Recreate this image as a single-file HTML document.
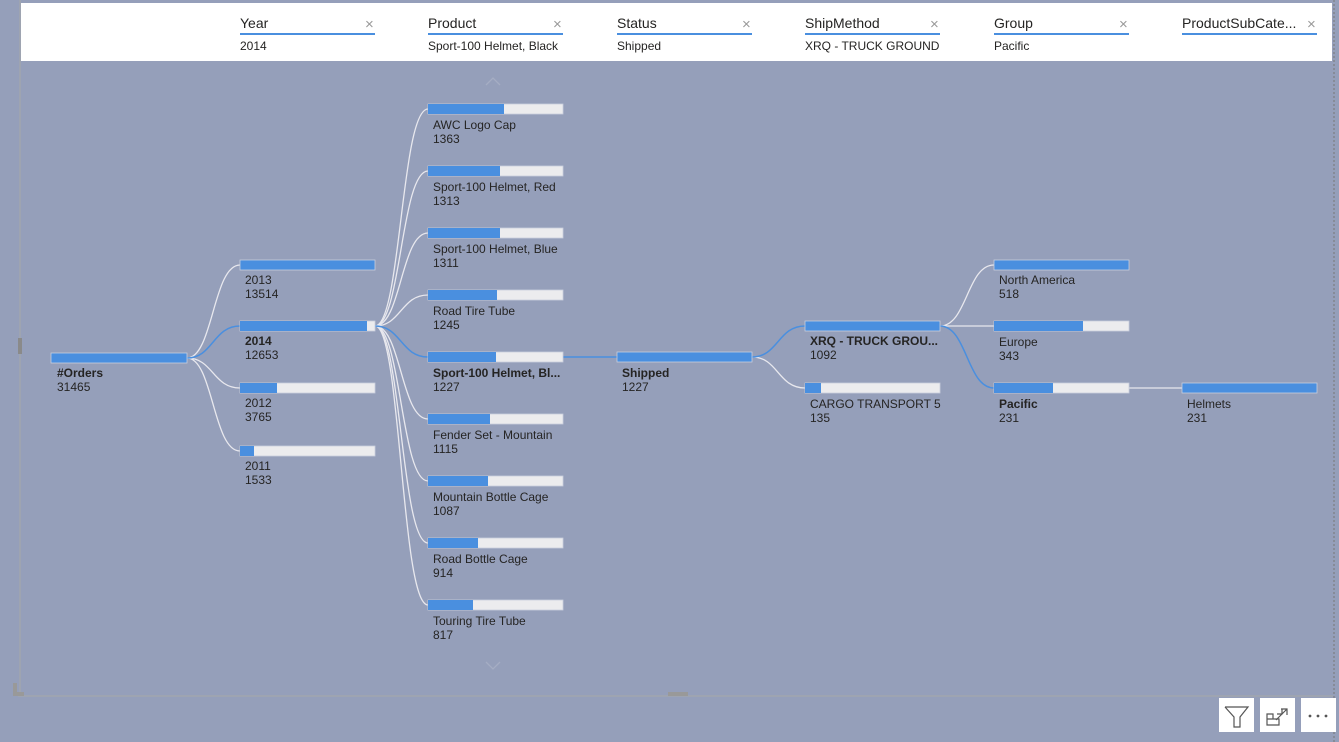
<!DOCTYPE html>
<html><head><meta charset="utf-8"><style>
html,body{margin:0;padding:0;width:1339px;height:742px;overflow:hidden;background:#959fba;font-family:"Liberation Sans",sans-serif}
svg{position:absolute;left:0;top:0}
</style></head><body>
<svg width="1339" height="742" viewBox="0 0 1339 742" font-family="Liberation Sans, sans-serif">
<rect x="0" y="0" width="1339" height="742" fill="#959fba"/>
<!-- frame -->
<line x1="20" y1="0" x2="20" y2="696" stroke="#a8a8a8" stroke-width="1"/>
<line x1="18" y1="696" x2="1333" y2="696" stroke="#a8a8a8" stroke-width="1"/>
<line x1="1334" y1="0" x2="1334" y2="742" stroke="#777" stroke-width="1" stroke-dasharray="2,2"/>
<rect x="18" y="338" width="4" height="16" fill="#8a8a8a"/>
<rect x="13" y="683" width="4" height="13" fill="#999"/>
<rect x="13" y="692" width="11" height="4" fill="#999"/>
<rect x="668" y="692" width="20" height="4" fill="#999"/>
<!-- header -->
<rect x="21" y="3" width="1311" height="58" fill="#ffffff"/>
<g font-size="14" fill="#252423">
<text x="240" y="28">Year</text><text x="428" y="28">Product</text><text x="617" y="28">Status</text>
<text x="805" y="28">ShipMethod</text><text x="994" y="28">Group</text><text x="1182" y="28">ProductSubCate...</text>
</g>
<g font-size="15" fill="#999">
<text x="365" y="29">×</text><text x="553" y="29">×</text><text x="742" y="29">×</text><text x="930" y="29">×</text><text x="1119" y="29">×</text><text x="1307" y="29">×</text>
</g>
<g fill="#4a8fdf">
<rect x="240" y="33" width="135" height="2"/><rect x="428" y="33" width="135" height="2"/><rect x="617" y="33" width="135" height="2"/>
<rect x="805" y="33" width="135" height="2"/><rect x="994" y="33" width="135" height="2"/><rect x="1182" y="33" width="135" height="2"/>
</g>
<g font-size="12" fill="#252423">
<text x="240" y="50">2014</text><text x="428" y="50">Sport-100 Helmet, Black</text><text x="617" y="50">Shipped</text>
<text x="805" y="50">XRQ - TRUCK GROUND</text><text x="994" y="50">Pacific</text>
</g>
<!-- chevrons -->
<polyline points="486,85 493,78 500,85" fill="none" stroke="#a5adc3" stroke-width="1.3"/>
<polyline points="486,662 493,669 500,662" fill="none" stroke="#a5adc3" stroke-width="1.3"/>
<!-- connectors -->
<g fill="none" stroke="#e8e8ee" stroke-width="1.3">
<path d="M187,358 C213,358 213,265 240,265"/>
<path d="M187,358 C213,358 213,388 240,388"/>
<path d="M187,358 C213,358 213,451 240,451"/>
<path d="M375,326 C401,326 401,109 428,109"/>
<path d="M375,326 C401,326 401,171 428,171"/>
<path d="M375,326 C401,326 401,233 428,233"/>
<path d="M375,326 C401,326 401,295 428,295"/>
<path d="M375,326 C401,326 401,419 428,419"/>
<path d="M375,326 C401,326 401,481 428,481"/>
<path d="M375,326 C401,326 401,543 428,543"/>
<path d="M375,326 C401,326 401,605 428,605"/>
<path d="M752,357 C778,357 778,388 805,388"/>
<path d="M940,326 C967,326 967,265 994,265"/>
<path d="M940,326 L994,326"/>
<path d="M1129,388 L1182,388"/>
</g>
<g fill="none" stroke="#4a8fdf" stroke-width="1.5">
<path d="M187,358 C213,358 213,326 240,326"/>
<path d="M375,326 C401,326 401,357 428,357"/>
<path d="M563,357 L617,357"/>
<path d="M752,357 C778,357 778,326 805,326"/>
<path d="M940,326 C967,326 967,388 994,388"/>
</g>
<!-- bars -->
<g stroke="#c8cedc" stroke-width="0.8">
<rect x="51" y="353" width="136" height="10" fill="#4a8fdf"/>
<rect x="240" y="260" width="135" height="10" fill="#4a8fdf"/>
<rect x="240" y="321" width="135" height="10" fill="#ececee"/><rect x="240" y="321" width="127" height="10" fill="#4a8fdf" stroke="none"/>
<rect x="240" y="383" width="135" height="10" fill="#ececee"/><rect x="240" y="383" width="37" height="10" fill="#4a8fdf" stroke="none"/>
<rect x="240" y="446" width="135" height="10" fill="#ececee"/><rect x="240" y="446" width="14" height="10" fill="#4a8fdf" stroke="none"/>
<rect x="428" y="104" width="135" height="10" fill="#ececee"/><rect x="428" y="104" width="76" height="10" fill="#4a8fdf" stroke="none"/>
<rect x="428" y="166" width="135" height="10" fill="#ececee"/><rect x="428" y="166" width="72" height="10" fill="#4a8fdf" stroke="none"/>
<rect x="428" y="228" width="135" height="10" fill="#ececee"/><rect x="428" y="228" width="72" height="10" fill="#4a8fdf" stroke="none"/>
<rect x="428" y="290" width="135" height="10" fill="#ececee"/><rect x="428" y="290" width="69" height="10" fill="#4a8fdf" stroke="none"/>
<rect x="428" y="352" width="135" height="10" fill="#ececee"/><rect x="428" y="352" width="68" height="10" fill="#4a8fdf" stroke="none"/>
<rect x="428" y="414" width="135" height="10" fill="#ececee"/><rect x="428" y="414" width="62" height="10" fill="#4a8fdf" stroke="none"/>
<rect x="428" y="476" width="135" height="10" fill="#ececee"/><rect x="428" y="476" width="60" height="10" fill="#4a8fdf" stroke="none"/>
<rect x="428" y="538" width="135" height="10" fill="#ececee"/><rect x="428" y="538" width="50" height="10" fill="#4a8fdf" stroke="none"/>
<rect x="428" y="600" width="135" height="10" fill="#ececee"/><rect x="428" y="600" width="45" height="10" fill="#4a8fdf" stroke="none"/>
<rect x="617" y="352" width="135" height="10" fill="#4a8fdf"/>
<rect x="805" y="321" width="135" height="10" fill="#4a8fdf"/>
<rect x="805" y="383" width="135" height="10" fill="#ececee"/><rect x="805" y="383" width="16" height="10" fill="#4a8fdf" stroke="none"/>
<rect x="994" y="260" width="135" height="10" fill="#4a8fdf"/>
<rect x="994" y="321" width="135" height="10" fill="#ececee"/><rect x="994" y="321" width="89" height="10" fill="#4a8fdf" stroke="none"/>
<rect x="994" y="383" width="135" height="10" fill="#ececee"/><rect x="994" y="383" width="59" height="10" fill="#4a8fdf" stroke="none"/>
<rect x="1182" y="383" width="135" height="10" fill="#4a8fdf"/>
</g>
<!-- labels -->
<g font-size="12" fill="#252423">
<text x="57" y="377" font-weight="bold">#Orders</text><text x="57" y="391">31465</text>
<text x="245" y="284">2013</text><text x="245" y="298">13514</text>
<text x="245" y="345" font-weight="bold">2014</text><text x="245" y="359">12653</text>
<text x="245" y="407">2012</text><text x="245" y="421">3765</text>
<text x="245" y="470">2011</text><text x="245" y="484">1533</text>
<text x="433" y="129">AWC Logo Cap</text><text x="433" y="143">1363</text>
<text x="433" y="191">Sport-100 Helmet, Red</text><text x="433" y="205">1313</text>
<text x="433" y="253">Sport-100 Helmet, Blue</text><text x="433" y="267">1311</text>
<text x="433" y="315">Road Tire Tube</text><text x="433" y="329">1245</text>
<text x="433" y="377" font-weight="bold">Sport-100 Helmet, Bl...</text><text x="433" y="391">1227</text>
<text x="433" y="439">Fender Set - Mountain</text><text x="433" y="453">1115</text>
<text x="433" y="501">Mountain Bottle Cage</text><text x="433" y="515">1087</text>
<text x="433" y="563">Road Bottle Cage</text><text x="433" y="577">914</text>
<text x="433" y="625">Touring Tire Tube</text><text x="433" y="639">817</text>
<text x="622" y="377" font-weight="bold">Shipped</text><text x="622" y="391">1227</text>
<text x="810" y="345" font-weight="bold">XRQ - TRUCK GROU...</text><text x="810" y="359">1092</text>
<text x="810" y="408">CARGO TRANSPORT 5</text><text x="810" y="422">135</text>
<text x="999" y="284">North America</text><text x="999" y="298">518</text>
<text x="999" y="346">Europe</text><text x="999" y="360">343</text>
<text x="999" y="408" font-weight="bold">Pacific</text><text x="999" y="422">231</text>
<text x="1187" y="408">Helmets</text><text x="1187" y="422">231</text>
</g>
<!-- bottom right buttons -->
<rect x="1219" y="698" width="35" height="34" fill="#fff"/>
<polyline points="1225,707 1248,707 1240,717 1240,727 1234,727 1234,717 1225,707" fill="none" stroke="#555" stroke-width="1.2"/>
<rect x="1260" y="698" width="35" height="34" fill="#fff"/>
<path d="M1267,714 V725 H1279 V719 H1273 V714 Z M1267,719 H1273" fill="none" stroke="#555" stroke-width="1.2"/>
<path d="M1277,714 H1282 V709 M1276,720 L1287,709 M1281,709 H1287 V715" fill="none" stroke="#555" stroke-width="1.2"/>
<rect x="1301" y="698" width="35" height="34" fill="#fff"/>
<circle cx="1310" cy="716" r="1.4" fill="#555"/><circle cx="1318" cy="716" r="1.4" fill="#555"/><circle cx="1326" cy="716" r="1.4" fill="#555"/>
</svg>
</body></html>
